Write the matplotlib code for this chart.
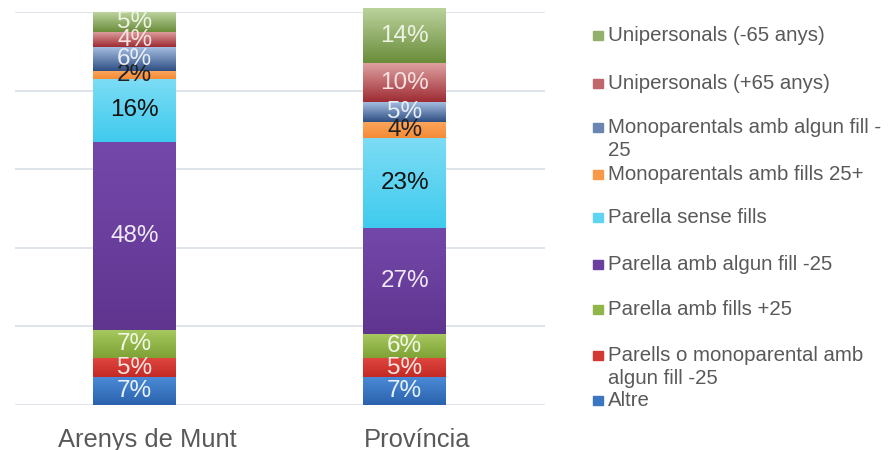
import matplotlib
matplotlib.use("Agg")
import matplotlib.pyplot as plt
import matplotlib.transforms as mtransforms
import numpy as np
from matplotlib.colors import to_rgb
from matplotlib.patches import Rectangle

plt.rcParams["font.family"] = ["Liberation Sans", "DejaVu Sans"]

categories = ["Arenys de Munt", "Província"]
series_names = [
    "Altre",
    "Parells o monoparental amb\nalgun fill -25",
    "Parella amb fills +25",
    "Parella amb algun fill -25",
    "Parella sense fills",
    "Monoparentals amb fills 25+",
    "Monoparentals amb algun fill -\n25",
    "Unipersonals (+65 anys)",
    "Unipersonals (-65 anys)",
]
arenys = [7, 5, 7, 48, 16, 2, 6, 4, 5]
provincia = [7, 5, 6, 27, 23, 4, 5, 10, 14]
values = np.array([arenys, provincia]).T

top_colors = ["#4a8ad6", "#e0473f", "#a6c85e", "#7448aa", "#7ddcf5", "#fba55c", "#a4bde0", "#e0a3a3", "#bcd39e"]
bot_colors = ["#2b62ad", "#c42a25", "#7ea236", "#5f3590", "#3fcbee", "#f58a35", "#2e4f84", "#9e2c33", "#6a8d3a"]
label_colors = ["#eaf2fb", "#fbe6e3", "#f2f8e6", "#f0eaf7", "#111111", "#222222", "#e9eef7", "#f6e2e2", "#eef4e4"]

fig = plt.figure(figsize=(8.88, 4.5), dpi=100)
ax = fig.add_axes([15/888, 1-405/450, 530/888, (405-12)/450])
x = np.arange(len(categories))
width = 0.307
bottom = np.zeros(len(categories))
for i in range(len(series_names)):
    bars = ax.bar(x, values[i], width, bottom=bottom, color=bot_colors[i], zorder=2)
    grad = np.linspace(0, 1, 64)[:, None]
    c1 = np.array(to_rgb(top_colors[i])); c2 = np.array(to_rgb(bot_colors[i]))
    img = (c1[None, None, :] * (1-grad[..., None]) + c2[None, None, :] * grad[..., None])
    img = np.repeat(img, 2, axis=1)
    for b in bars:
        bx, by, bw, bh = b.get_x(), b.get_y(), b.get_width(), b.get_height()
        im = ax.imshow(img, extent=(bx, bx+bw, by, by+bh), aspect="auto", zorder=3, interpolation="bilinear")
        im.set_clip_path(b)
    for j, b in enumerate(bars):
        ax.text(b.get_x()+b.get_width()/2, b.get_y()+b.get_height()/2, f"{values[i][j]}%",
                ha="center", va="center", fontsize=17.5, color=label_colors[i], zorder=5)
    bottom += values[i]

ax.set_xlim(-0.443, 1.52)
ax.set_ylim(0, 100)
ax.set_yticks(np.arange(0, 101, 20))
ax.yaxis.grid(True, color="#d9dfe8", linewidth=1.2, zorder=0)
ax.set_axisbelow(True)
ax.tick_params(axis="y", left=False, labelleft=False)
ax.tick_params(axis="x", bottom=False, labelsize=18.4, labelcolor="#595959", pad=13)
ax.set_xticks(x)
ax.set_xticklabels(categories)
shift = mtransforms.ScaledTranslation(13/100, 0, fig.dpi_scale_trans)
for lbl in ax.get_xticklabels():
    lbl.set_transform(lbl.get_transform() + shift)
for s in ax.spines.values():
    s.set_visible(False)

# legend (manual, top to bottom); y = cap centre of first line in pixels
leg_y = [33, 81, 125, 172, 215, 262, 307, 353, 398]
order = list(range(len(series_names)))[::-1]
for k, i in enumerate(order):
    y = leg_y[k]
    mid = (np.array(to_rgb(top_colors[i])) + np.array(to_rgb(bot_colors[i]))) / 2
    fig.add_artist(Rectangle((593/888, 1-(y+7)/450), 10/888, 9/450, transform=fig.transFigure,
                             color=mid))
    fig.text(608/888, 1-(y-7)/450, series_names[i], ha="left", va="top", fontsize=14.7,
             color="#595959", linespacing=1.3)

fig.savefig("out.png", dpi=100)
